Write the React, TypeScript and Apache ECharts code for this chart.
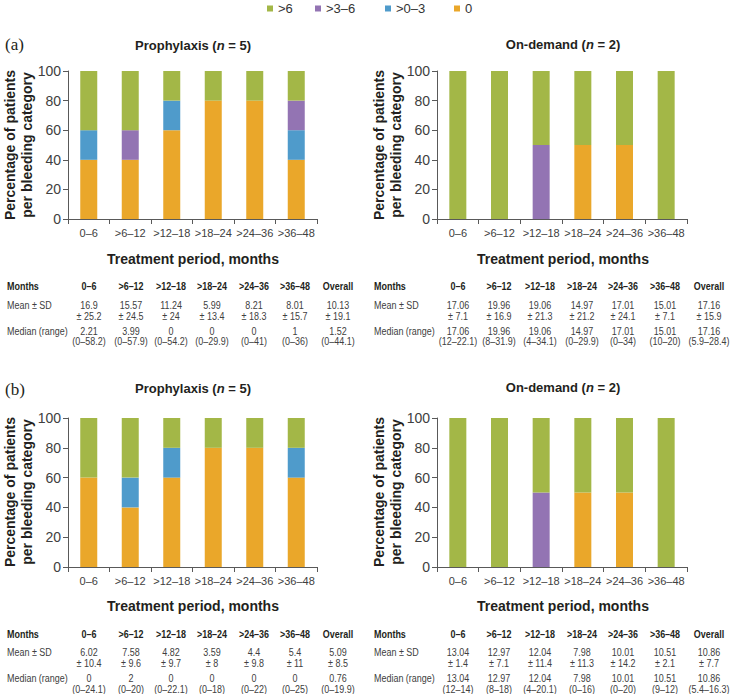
import React, { useEffect, useRef } from "react";
import * as echarts from "echarts";

const FONT = "'Liberation Sans', Arial, Helvetica, sans-serif";

const categories = ["0–6", ">6–12", ">12–18", ">18–24", ">24–36", ">36–48"];
const seriesNames = ["0", ">0–3", ">3–6", ">6"];
const seriesColors = ["#EAA72A", "#4F9BCB", "#9374B3", "#A3B747"];
const legendOrder = [">6", ">3–6", ">0–3", "0"];

// Panel (a) – percentages per bleeding category (stack order: 0, >0–3, >3–6, >6)
const aProph0 = [40, 40, 60, 80, 80, 40];
const aProph03 = [20, 0, 20, 0, 0, 20];
const aProph36 = [0, 20, 0, 0, 0, 20];
const aProph6 = [40, 40, 20, 20, 20, 20];
const aOn0 = [0, 0, 0, 50, 50, 0];
const aOn03 = [0, 0, 0, 0, 0, 0];
const aOn36 = [0, 0, 50, 0, 0, 0];
const aOn6 = [100, 100, 50, 50, 50, 100];

// Panel (b)
const bProph0 = [60, 40, 60, 80, 80, 60];
const bProph03 = [0, 20, 20, 0, 0, 20];
const bProph36 = [0, 0, 0, 0, 0, 0];
const bProph6 = [40, 40, 20, 20, 20, 20];
const bOn0 = [0, 0, 0, 50, 50, 0];
const bOn03 = [0, 0, 0, 0, 0, 0];
const bOn36 = [0, 0, 50, 0, 0, 0];
const bOn6 = [100, 100, 50, 50, 50, 100];

// Tables
const tableHeader = ["0–6", ">6–12", ">12–18", ">18–24", ">24–36", ">36–48", "Overall"];
const aProphMean = ["16.9", "15.57", "11.24", "5.99", "8.21", "8.01", "10.13"];
const aProphSD = ["25.2", "24.5", "24", "13.4", "18.3", "15.7", "19.1"];
const aProphMedian = ["2.21", "3.99", "0", "0", "0", "1", "1.52"];
const aProphRange = ["0–58.2", "0–57.9", "0–54.2", "0–29.9", "0–41", "0–36", "0–44.1"];
const aOnMean = ["17.06", "19.96", "19.06", "14.97", "17.01", "15.01", "17.16"];
const aOnSD = ["7.1", "16.9", "21.3", "21.2", "24.1", "7.1", "15.9"];
const aOnMedian = ["17.06", "19.96", "19.06", "14.97", "17.01", "15.01", "17.16"];
const aOnRange = ["12–22.1", "8–31.9", "4–34.1", "0–29.9", "0–34", "10–20", "5.9–28.4"];
const bProphMean = ["6.02", "7.58", "4.82", "3.59", "4.4", "5.4", "5.09"];
const bProphSD = ["10.4", "9.6", "9.7", "8", "9.8", "11", "8.5"];
const bProphMedian = ["0", "2", "0", "0", "0", "0", "0.76"];
const bProphRange = ["0–24.1", "0–20", "0–22.1", "0–18", "0–22", "0–25", "0–19.9"];
const bOnMean = ["13.04", "12.97", "12.04", "7.98", "10.01", "10.51", "10.86"];
const bOnSD = ["1.4", "7.1", "11.4", "11.3", "14.2", "2.1", "7.7"];
const bOnMedian = ["13.04", "12.97", "12.04", "7.98", "10.01", "10.51", "10.86"];
const bOnRange = ["12–14", "8–18", "4–20.1", "0–16", "0–20", "9–12", "5.4–16.3"];

const panels = [
  { data: [aProph0, aProph03, aProph36, aProph6] },
  { data: [aOn0, aOn03, aOn36, aOn6] },
  { data: [bProph0, bProph03, bProph36, bProph6] },
  { data: [bOn0, bOn03, bOn36, bOn6] },
];

const grids = [
  { left: 68, top: 71, width: 249, height: 148 },
  { left: 437, top: 71, width: 250, height: 148 },
  { left: 68, top: 418, width: 249, height: 149 },
  { left: 437, top: 418, width: 250, height: 149 },
];

const TEXT_DARK = "#231F20";
const TEXT_GRAY = "#404040";
const AXIS = "#595959";

function txt(x: number, y: number, text: string, opts: any = {}) {
  return {
    type: "text",
    x,
    y,
    scaleX: opts.scaleX ?? 1,
    silent: true,
    rotation: opts.rotation ?? 0,
    style: {
      text,
      fill: opts.fill ?? TEXT_GRAY,
      fontSize: opts.fontSize ?? 11,
      fontWeight: opts.fontWeight ?? "normal",
      fontFamily: opts.fontFamily ?? FONT,
      align: opts.align ?? "center",
      verticalAlign: "middle",
      lineHeight: opts.lineHeight,
      rich: opts.rich,
    },
  };
}

function table(
  labelX: number,
  cols: number[],
  rows: number[],
  mean: string[],
  sd: string[],
  median: string[],
  range: string[]
) {
  const sx = 0.78;
  const fs = 11.5;
  const els: any[] = [];
  els.push(txt(labelX, rows[0], "Months", { align: "left", fontWeight: "bold", fill: TEXT_DARK, scaleX: sx, fontSize: fs }));
  els.push(txt(labelX, rows[1], "Mean ± SD", { align: "left", scaleX: sx, fontSize: fs }));
  els.push(txt(labelX, rows[3], "Median (range)", { align: "left", scaleX: sx, fontSize: fs }));
  tableHeader.forEach((h, i) => {
    els.push(txt(cols[i], rows[0], h, { fontWeight: "bold", fill: TEXT_DARK, scaleX: sx, fontSize: fs }));
    els.push(txt(cols[i], rows[1], mean[i], { scaleX: sx, fontSize: fs }));
    els.push(txt(cols[i], rows[2], "± " + sd[i], { scaleX: sx, fontSize: fs }));
    els.push(txt(cols[i], rows[3], median[i], { scaleX: sx, fontSize: fs }));
    els.push(txt(cols[i], rows[4], "(" + range[i] + ")", { scaleX: sx, fontSize: fs }));
  });
  return els;
}

function title(x: number, y: number, name: string, n: number) {
  return txt(x, y, `{b|${name} (}{i|n}{b| = ${n})}`, {
    rich: {
      b: { fontSize: 13, fontWeight: "bold", fill: TEXT_DARK, fontFamily: FONT },
      i: { fontSize: 13, fontWeight: "bold", fontStyle: "italic", fill: TEXT_DARK, fontFamily: FONT },
    },
  });
}

const leftCols = [89, 131, 171, 212, 254, 295, 338];
const rightCols = [458, 499, 540, 582, 623, 665, 709];
const aRows = [286, 305, 316, 331, 341];
const bRows = [634, 652, 663, 678, 689];
const legendLeft = [267, 315, 385, 454];

export default function App() {
  const ref = useRef<HTMLDivElement>(null);
  useEffect(() => {
    document.body.style.margin = "0";
    if (!ref.current) return;
    const chart = echarts.init(ref.current, undefined, { renderer: "svg" });

    const yName = "Percentage of patients\nper bleeding category";
    const serif = "'Liberation Serif', 'Times New Roman', serif";
    const graphic: any[] = [
      txt(5, 44, "(a)", { fontFamily: serif, fontSize: 17, align: "left", fill: TEXT_DARK }),
      txt(5, 389, "(b)", { fontFamily: serif, fontSize: 17, align: "left", fill: TEXT_DARK }),
      title(193, 45, "Prophylaxis", 5),
      title(563, 44, "On-demand", 2),
      title(193, 388, "Prophylaxis", 5),
      title(563, 387, "On-demand", 2),
      txt(18, 145, yName, { rotation: Math.PI / 2, fontSize: 14, fontWeight: "bold", fill: TEXT_DARK, lineHeight: 17 }),
      txt(387, 145, yName, { rotation: Math.PI / 2, fontSize: 14, fontWeight: "bold", fill: TEXT_DARK, lineHeight: 17 }),
      txt(18, 492, yName, { rotation: Math.PI / 2, fontSize: 14, fontWeight: "bold", fill: TEXT_DARK, lineHeight: 17 }),
      txt(387, 492, yName, { rotation: Math.PI / 2, fontSize: 14, fontWeight: "bold", fill: TEXT_DARK, lineHeight: 17 }),
      txt(193, 259, "Treatment period, months", { fontSize: 14, fontWeight: "bold", fill: TEXT_DARK }),
      txt(563, 259, "Treatment period, months", { fontSize: 14, fontWeight: "bold", fill: TEXT_DARK }),
      txt(193, 606, "Treatment period, months", { fontSize: 14, fontWeight: "bold", fill: TEXT_DARK }),
      txt(563, 606, "Treatment period, months", { fontSize: 14, fontWeight: "bold", fill: TEXT_DARK }),
      ...table(7, leftCols, aRows, aProphMean, aProphSD, aProphMedian, aProphRange),
      ...table(374, rightCols, aRows, aOnMean, aOnSD, aOnMedian, aOnRange),
      ...table(7, leftCols, bRows, bProphMean, bProphSD, bProphMedian, bProphRange),
      ...table(374, rightCols, bRows, bOnMean, bOnSD, bOnMedian, bOnRange),
    ];

    const series: any[] = [];
    panels.forEach((p, gi) => {
      seriesNames.forEach((name, si) => {
        series.push({
          type: "bar",
          name,
          stack: "s" + gi,
          xAxisIndex: gi,
          yAxisIndex: gi,
          barWidth: 17,
          itemStyle: { color: seriesColors[si] },
          emphasis: { disabled: true },
          data: p.data[si],
        });
      });
    });

    chart.setOption({
      animation: false,
      color: seriesColors,
      textStyle: { fontFamily: FONT },
      legend: legendOrder.map((name, k) => ({
        data: [name],
        left: legendLeft[k],
        top: 2,
        padding: 0,
        icon: "rect",
        itemWidth: 6,
        itemHeight: 6,
        selectedMode: false,
        textStyle: { fontSize: 13, color: "#333", fontFamily: FONT },
      })),
      grid: grids.map((g) => ({ ...g, containLabel: false })),
      xAxis: grids.map((_, gi) => ({
        type: "category",
        gridIndex: gi,
        data: categories,
        axisLine: { lineStyle: { color: AXIS, width: 1 } },
        axisTick: { show: true, length: 5, alignWithLabel: false, lineStyle: { color: AXIS } },
        axisLabel: { interval: 0, fontSize: 11, color: TEXT_GRAY, margin: 8, fontFamily: FONT },
      })),
      yAxis: grids.map((_, gi) => ({
        type: "value",
        gridIndex: gi,
        min: 0,
        max: 100,
        interval: 20,
        axisLine: { show: true, lineStyle: { color: AXIS, width: 1 } },
        axisTick: { show: true, length: 5, lineStyle: { color: AXIS } },
        splitLine: { show: false },
        axisLabel: { fontSize: 14, color: TEXT_GRAY, margin: 7, fontFamily: FONT },
      })),
      series,
      graphic,
    });

    return () => chart.dispose();
  }, []);

  return <div ref={ref} style={{ width: 732, height: 694 }} />;
}
